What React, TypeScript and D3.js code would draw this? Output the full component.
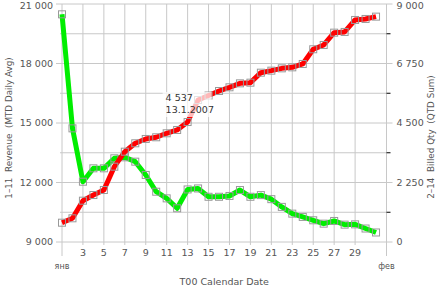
import React from "react";
import * as d3 from "d3";

const days = d3.range(1, 32);
const revenue = [20480, 14730, 12040, 12715, 12715, 13220, 13270, 13050, 12380, 11535, 11200, 10700, 11650, 11700, 11280, 11280, 11320, 11620, 11280, 11365, 11160, 10770, 10430, 10265, 10095, 9925, 10060, 9875, 9890, 9680, 9480];
const billedQty = [730, 896, 1562, 1777, 1966, 2848, 3415, 3733, 3896, 3960, 4111, 4236, 4537, 5370, 5540, 5710, 5850, 6000, 6025, 6403, 6479, 6567, 6605, 6732, 7288, 7451, 7916, 7943, 8396, 8434, 8522];
const leftTicks = [9000, 12000, 15000, 18000, 21000];
const rightTicks = [0, 2250, 4500, 6750, 9000];
const dayLabels = [3, 5, 7, 9, 11, 13, 15, 17, 19, 21, 23, 25, 27, 29];
const monthLabels = ["янв", "фев"];
const annotIndex = 12;
const annotDate = "13.1.2007";
const leftTitle = "1–11  Revenue  (MTD Daily Avg)";
const rightTitle = "2–14  Billed Qty  (QTD Sum)";
const xTitle = "T00 Calendar Date";

const locale = d3.formatLocale({ decimal: ",", thousands: " ", grouping: [3], currency: ["", ""] });
const fmt = locale.format(",d");

export default function App() {
  const W = 440, H = 290;
  const L = 62, R = 386.5, T = 4, B = 242;
  const x = d3.scaleTime().domain([new Date(2007, 0, 1), new Date(2007, 1, 1)]).range([L, R]);
  const yL = d3.scaleLinear().domain([9000, 21000]).range([B, T]);
  const yR = d3.scaleLinear().domain([0, 9000]).range([B, T]);
  const dx = (d: number) => x(new Date(2007, 0, d));
  const font = "'DejaVu Sans', sans-serif";
  const grid = "#c8c8c8";
  const txt = "#555";

  const lineL = d3.line<number>().x((_, i) => dx(days[i])).y((v) => yL(v));
  const lineR = d3.line<number>().x((_, i) => dx(days[i])).y((v) => yR(v));

  const hGrid = d3.range(9000, 21001, 1500);
  const rMinor = d3.range(1125, 9000, 2250);
  const vGridDays = d3.range(1, 30, 2);

  const ax = dx(days[annotIndex]);
  const ay = yR(billedQty[annotIndex]);
  const labelY = (y: number) => Math.max(y + 3.3, 8.6);

  return (
    <svg width={W} height={H} style={{ position: "absolute", left: 0, top: 0, background: "#fff" }} fontFamily={font}>
      {hGrid.map((v, i) => (
        <line key={"h" + i} x1={(v - 9000) % 3000 === 0 ? L - 6 : L - 2} x2={(v - 9000) % 3000 === 0 ? R + 6 : R} y1={yL(v)} y2={yL(v)} stroke={grid} strokeWidth={1} />
      ))}
      {vGridDays.map((d) => (
        <line key={"v" + d} x1={dx(d)} x2={dx(d)} y1={T} y2={d === 1 ? B + 14 : B + 3} stroke={grid} strokeWidth={1} />
      ))}
      <line x1={R} x2={R} y1={T} y2={B + 14} stroke={grid} strokeWidth={1} />
      {rMinor.map((v) => (
        <line key={"rm" + v} x1={R} x2={R + 4} y1={yR(v)} y2={yR(v)} stroke="#000" strokeWidth={1} />
      ))}
      {leftTicks.map((v) => (
        <text key={"lt" + v} x={L - 9} y={labelY(yL(v))} textAnchor="end" fontSize={9.5} fill={txt}>{fmt(v)}</text>
      ))}
      {rightTicks.map((v) => (
        <text key={"rt" + v} x={R + 10} y={labelY(yR(v))} textAnchor="start" fontSize={9.5} fill={txt}>{fmt(v)}</text>
      ))}
      {dayLabels.map((d) => (
        <text key={"d" + d} x={dx(d)} y={B + 14} textAnchor="middle" fontSize={9.5} fill={txt}>{d}</text>
      ))}
      <text x={L} y={B + 27} textAnchor="middle" fontSize={8} fill={txt}>{monthLabels[0]}</text>
      <text x={R} y={B + 27} textAnchor="middle" fontSize={8} fill={txt}>{monthLabels[1]}</text>
      <text x={(L + R) / 2} y={H - 5} textAnchor="middle" fontSize={9.5} fill={txt}>{xTitle}</text>
      <text transform={`translate(12,128) rotate(-90)`} textAnchor="middle" fontSize={8.8} fill={txt} style={{ whiteSpace: "pre" }}>{leftTitle}</text>
      <text transform={`translate(434,137) rotate(-90)`} textAnchor="middle" fontSize={8.8} fill={txt} style={{ whiteSpace: "pre" }}>{rightTitle}</text>

      <path d={lineL(revenue) || ""} fill="none" stroke="#00ee00" strokeWidth={5} strokeLinejoin="round" />
      {revenue.map((v, i) => (
        <rect key={"gm" + i} x={dx(days[i]) - 3.5} y={yL(v) - 3.5} width={7} height={7} fill="none" stroke="#999" strokeWidth={1} />
      ))}
      <path d={lineR(billedQty) || ""} fill="none" stroke="#ff0000" strokeWidth={5} strokeLinejoin="round" />
      {billedQty.map((v, i) => (
        <rect key={"rmk" + i} x={dx(days[i]) - 3.5} y={yR(v) - 3.5} width={7} height={7} fill="none" stroke="#999" strokeWidth={1} />
      ))}

      <rect x={ax - 25} y={ay - 30} width={49} height={25} fill="#fff" fillOpacity={0.72} />
      <text x={ax - 22} y={ay - 21} fontSize={9.5} fill="#333">{fmt(billedQty[annotIndex])}</text>
      <text x={ax - 22} y={ay - 9} fontSize={9.5} fill="#333">{annotDate}</text>
    </svg>
  );
}
